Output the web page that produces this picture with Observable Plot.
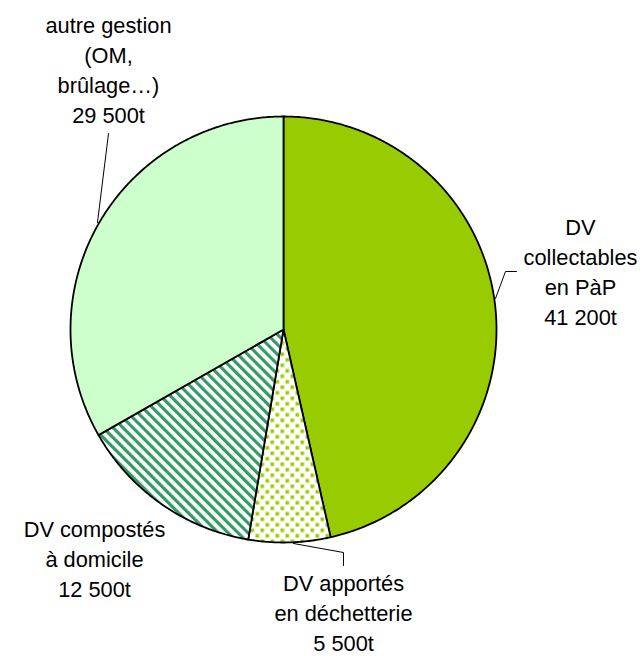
<!DOCTYPE html>
<html><head><meta charset="utf-8">
<script src="https://cdn.jsdelivr.net/npm/d3@7"></script>
<script src="https://cdn.jsdelivr.net/npm/@observablehq/plot@0.6"></script>
<style>body{margin:0;background:#fff} svg{display:block}</style>
</head><body><div id="chart"></div>
<script>
// ---- data ----
const categories = ["DV collectables en PàP", "DV apportés en déchetterie", "DV compostés à domicile", "autre gestion (OM, brûlage…)"];
const labelLines = [["DV", "collectables", "en PàP"], ["DV apportés", "en déchetterie"], ["DV compostés", "à domicile"], ["autre gestion", "(OM,", "brûlage…)"]];
const tonnages = [41200, 5500, 12500, 29500];
const unit = "t";

// ---- styles / layout ----
const fills = ["#99CC00", "url(#dots)", "url(#stripes)", "#CCFFCC"];
const W = 643, H = 656, CX = 283, CY = 329, R = 213;
const labelPos = [[580, 270], [343, 611], [94, 557], [108, 68]];
const leaderPaths = [
  [[516, 271], [505, 271], [495, 298]],
  [[293, 543], [343, 552], [343, 565]],
  null,
  [[108, 133], [97, 222]]
];

const fmt = v => String(v).replace(/\B(?=(\d{3})+(?!\d))/g, " ") + unit;

const arcs = d3.pie().sort(null).value(d => d)(tonnages);
const slices = arcs.map((a, i) => {
  const pts = [{x: CX, y: CY}];
  const n = Math.max(2, Math.ceil((a.endAngle - a.startAngle) / (Math.PI / 360)));
  for (let k = 0; k <= n; k++) {
    const t = a.startAngle + (a.endAngle - a.startAngle) * k / n;
    pts.push({x: CX + R * Math.sin(t), y: CY - R * Math.cos(t)});
  }
  pts.push({x: CX, y: CY});
  return pts;
});

const labels = categories.map((c, i) => ({
  name: c,
  text: [...labelLines[i], fmt(tonnages[i])].join("\n"),
  x: labelPos[i][0], y: labelPos[i][1]
}));

const leaders = [];
leaderPaths.forEach((p, i) => { if (p) p.forEach(([x, y]) => leaders.push({id: i, x, y})); });

const chart = Plot.plot({
  width: W, height: H, margin: 0,
  x: {domain: [0, W], range: [0, W], axis: null},
  y: {domain: [0, H], range: [0, H], axis: null},
  marks: [
    ...slices.map((pts, i) => Plot.line(pts, {x: "x", y: "y", fill: fills[i], stroke: "black", strokeWidth: 1.8, strokeLinejoin: "round"})),
    Plot.line(leaders, {x: "x", y: "y", z: "id", stroke: "black", strokeWidth: 1}),
    Plot.text(labels, {x: "x", y: "y", text: "text", fontSize: 21.8, lineHeight: 1.37, fontFamily: "Liberation Sans, Arial, sans-serif", fill: "black", textAnchor: "middle"})
  ]
});

const svg = d3.select(chart);
const defs = svg.insert("defs", ":first-child");
const st = defs.append("pattern").attr("id", "stripes").attr("patternUnits", "userSpaceOnUse")
  .attr("width", 7).attr("height", 7).attr("patternTransform", "rotate(-45)");
st.append("rect").attr("width", 7).attr("height", 7).attr("fill", "white");
st.append("rect").attr("width", 3.2).attr("height", 7).attr("fill", "#339966");
const dt = defs.append("pattern").attr("id", "dots").attr("patternUnits", "userSpaceOnUse")
  .attr("width", 10).attr("height", 11);
dt.append("rect").attr("width", 10).attr("height", 11).attr("fill", "white");
dt.append("rect").attr("x", 0).attr("y", 0).attr("width", 3.6).attr("height", 3.6).attr("fill", "#99CC00");
dt.append("rect").attr("x", 5).attr("y", 5.5).attr("width", 3.6).attr("height", 3.6).attr("fill", "#99CC00");

document.getElementById("chart").append(chart);
</script>
</body></html>
